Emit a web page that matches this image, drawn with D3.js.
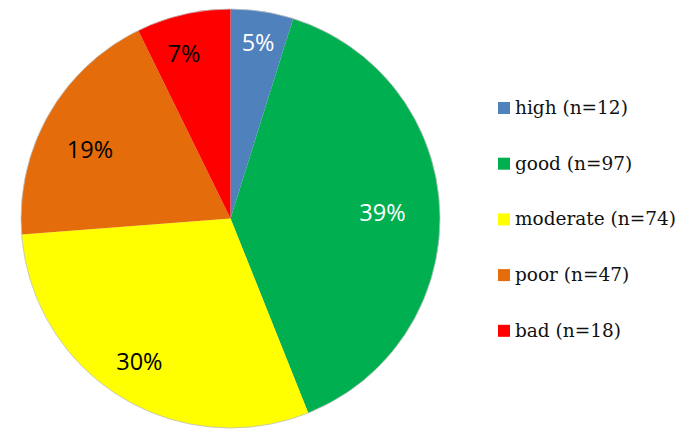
<!DOCTYPE html>
<html>
<head>
<meta charset="utf-8">
<script src="https://cdn.jsdelivr.net/npm/d3@7"></script>
<style>
  html, body { margin: 0; padding: 0; background: #fff; }
  svg { display: block; }
</style>
</head>
<body>
<svg id="chart" width="686" height="429"></svg>
<script>
// Status classes and their counts
const categories = ["high", "good", "moderate", "poor", "bad"];
const counts = [12, 97, 74, 47, 18];
const colors = ["#4F81BD", "#00B050", "#FFFF00", "#E46C0A", "#FF0000"];
const labelColors = ["#ffffff", "#ffffff", "#000000", "#000000", "#000000"];
// Placement of each percentage label: fraction of the radius, and a small
// angular nudge (degrees) away from the slice's mid-angle
const labelRadius = [0.85, 0.726, 0.809, 0.748, 0.816];
const labelNudge = [0.2, 0.1, 0.6, -3.5, -2.7];

const svg = d3.select("#chart");
const cx = 230.5, cy = 218.5, radius = 209.5;

const total = d3.sum(counts);
const pie = d3.pie().sort(null).value(d => d)(counts);
const arc = d3.arc().innerRadius(0).outerRadius(radius);

const g = svg.append("g").attr("transform", `translate(${cx},${cy})`);

g.selectAll("path.slice")
  .data(pie)
  .join("path")
  .attr("class", "slice")
  .attr("d", arc)
  .attr("fill", (d, i) => colors[i]);

// thin soft rim around the pie
g.append("circle")
  .attr("r", radius)
  .attr("fill", "none")
  .attr("stroke", "#bfbfbf")
  .attr("stroke-width", 0.8);

// percentage labels
const pctSize = 23.5;
g.selectAll("text.pct")
  .data(pie)
  .join("text")
  .attr("class", "pct")
  .attr("transform", (d, i) => {
    const a = (d.startAngle + d.endAngle) / 2 + labelNudge[i] * Math.PI / 180;
    const r = radius * labelRadius[i];
    return `translate(${r * Math.sin(a)},${-r * Math.cos(a) + pctSize * 0.357})`;
  })
  .attr("text-anchor", "middle")
  .attr("font-family", "'Open Sans', 'Liberation Sans', sans-serif")
  .attr("font-size", pctSize)
  .attr("fill", (d, i) => labelColors[i])
  .text(d => Math.round(d.value / total * 100) + "%");

// legend
const legend = svg.append("g").attr("transform", "translate(498,114)");
const rowStep = 55.7;
const rows = legend.selectAll("g.row")
  .data(categories)
  .join("g")
  .attr("class", "row")
  .attr("transform", (d, i) => `translate(0,${i * rowStep})`);

rows.append("rect")
  .attr("x", 0)
  .attr("y", -12)
  .attr("width", 12)
  .attr("height", 12)
  .attr("fill", (d, i) => colors[i]);

rows.append("text")
  .attr("x", 17)
  .attr("y", 0)
  .attr("font-family", "'DejaVu Serif', serif")
  .attr("font-size", 18.5)
  .attr("fill", "#111")
  .text((d, i) => `${d} (n=${counts[i]})`);
</script>
</body>
</html>
